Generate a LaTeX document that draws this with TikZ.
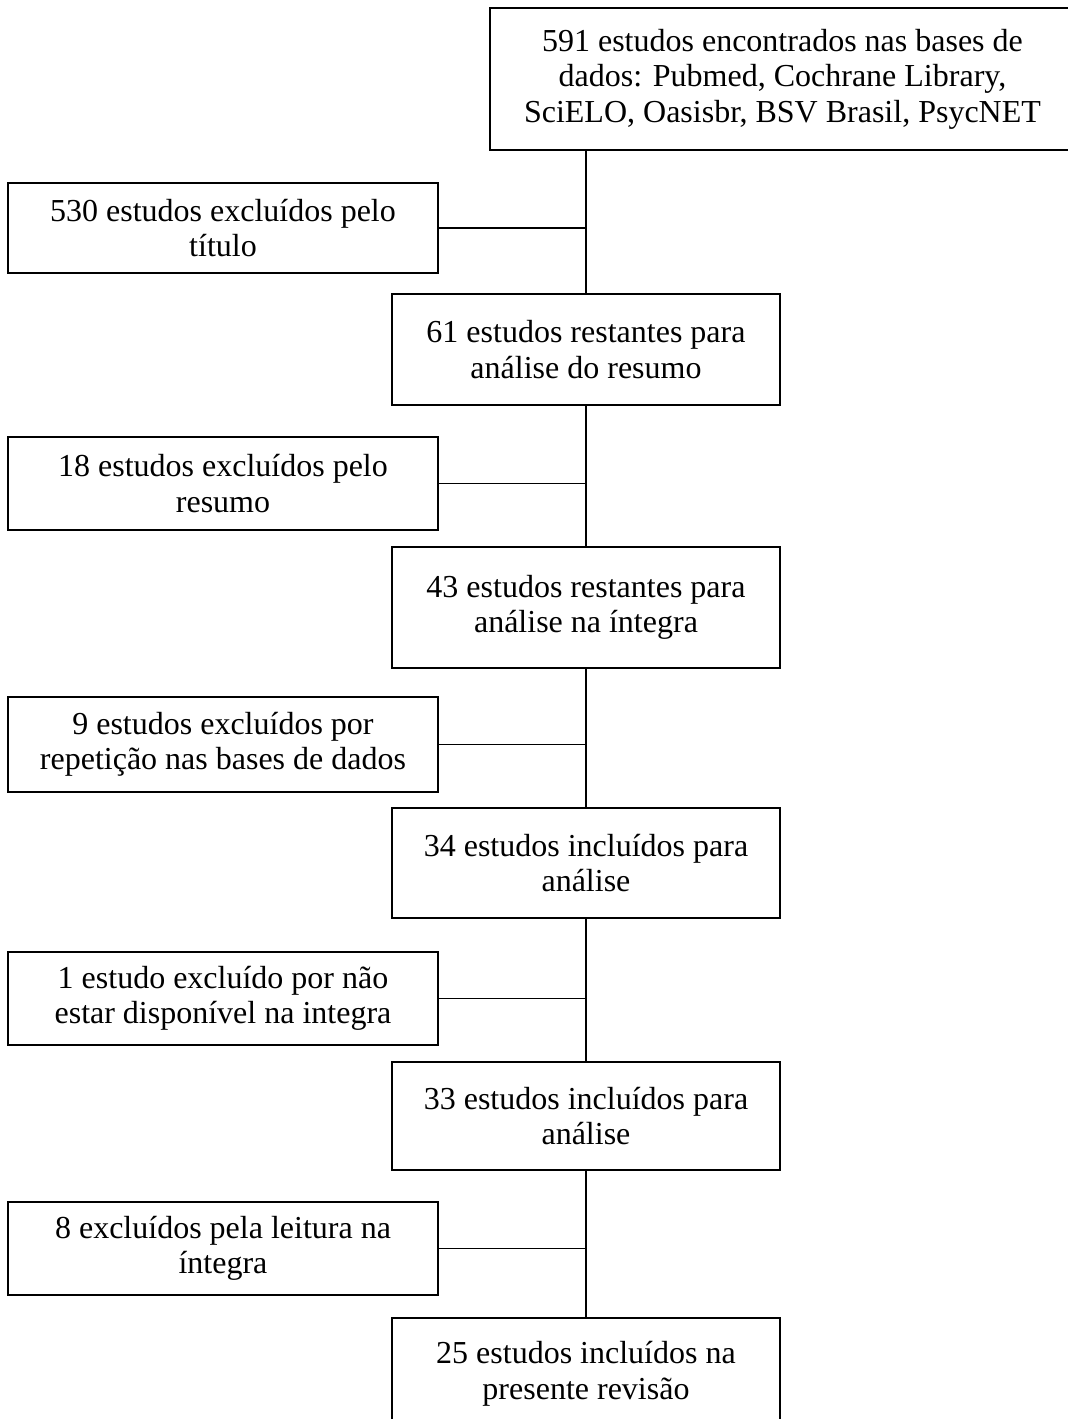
\documentclass[tikz,border=0pt]{standalone}
\usepackage{fontspec}
\setmainfont{Liberation Serif}
\usepackage{tikz}
\usetikzlibrary{shapes,arrows,calc,positioning}

\begin{document}
\begin{tikzpicture}[x=1pt, y=-1pt, line width=1.6pt,
  every node/.style={font=\fontsize{32}{35.5}\selectfont},
  leftbox/.style={draw, align=center, inner sep=0pt, minimum width=430pt, minimum height=93pt},
  rightbox/.style={draw, align=center, inner sep=0pt, minimum width=388pt, minimum height=110pt}]

\useasboundingbox (0,0) rectangle (1068,1419);

%nodes
\node [draw, align=center, inner sep=0pt, minimum width=585pt, minimum height=142pt] (1) at (782.5,79) {591 estudos encontrados nas bases de\\dados: Pubmed, Cochrane Library,\\SciELO, Oasisbr, BSV Brasil, PsycNET};

\node [leftbox, minimum height=90pt] (2) at (223,228) {530 estudos excluídos pelo\\título};
\node [rightbox, minimum height=111pt] (3) at (586,349.5) {61 estudos restantes para\\análise do resumo};

\node [leftbox] (4) at (223,483.5) {18 estudos excluídos pelo\\resumo};
\node [rightbox, minimum height=121pt] (5) at (586,607.5) {43 estudos restantes para\\análise na íntegra};

\node [leftbox, minimum height=95pt] (6) at (223,744.5) {9 estudos excluídos por\\repetição nas bases de dados};
\node [rightbox] (7) at (586,863) {34 estudos incluídos para\\análise};

\node [leftbox] (8) at (223,998.5) {1 estudo excluído por não\\estar disponível na integra};
\node [rightbox, minimum height=108pt] (9) at (586,1116) {33 estudos incluídos para\\análise};

\node [leftbox] (10) at (223,1248.5) {8 excluídos pela leitura na\\íntegra};
\node [rightbox, minimum height=112pt] (11) at (586,1374) {25 estudos incluídos na\\presente revisão};

%arrows
\path [draw] (3.north) -- (3.north |- 1.south);
\path [draw] (3.south) -- (5.north);
\path [draw] (5.south) -- (7.north);
\path [draw] (7.south) -- (9.north);
\path [draw] (9.south) -- (11.north);

\path [draw] (2.east) -- (2.east -| 3.north);
\path [draw] (4.east) -- (4.east -| 3.north);
\path [draw] (6.east) -- (6.east -| 3.north);
\path [draw] (8.east) -- (8.east -| 3.north);
\path [draw] (10.east) -- (10.east -| 3.north);

\end{tikzpicture}
\end{document}
